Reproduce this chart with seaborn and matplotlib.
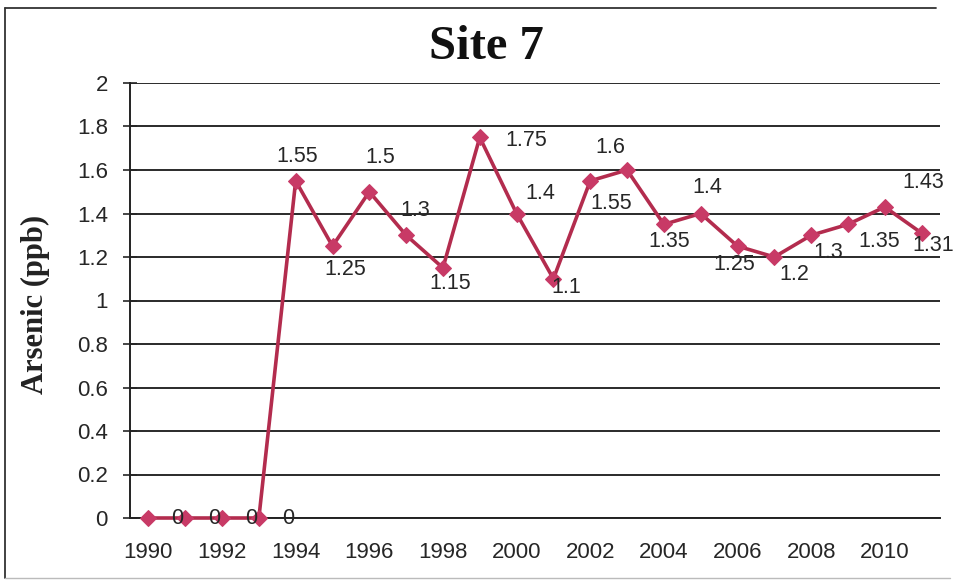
import matplotlib
matplotlib.use("Agg")
import matplotlib.pyplot as plt
from matplotlib.lines import Line2D
import numpy as np
import pandas as pd
import seaborn as sns

# Annual arsenic readings at Site 7
years = list(range(1990, 2012))
arsenic = [0, 0, 0, 0, 1.55, 1.25, 1.5, 1.3, 1.15, 1.75, 1.4, 1.1,
           1.55, 1.6, 1.35, 1.4, 1.25, 1.2, 1.3, 1.35, 1.43, 1.31]
value_labels = ["0", "0", "0", "0", "1.55", "1.25", "1.5", "1.3", "1.15", "1.75", "1.4", "1.1",
                "1.55", "1.6", "1.35", "1.4", "1.25", "1.2", "1.3", "1.35", "1.43", "1.31"]
y_ticks = [0, 0.2, 0.4, 0.6, 0.8, 1, 1.2, 1.4, 1.6, 1.8, 2]
y_tick_labels = ["0", "0.2", "0.4", "0.6", "0.8", "1", "1.2", "1.4", "1.6", "1.8", "2"]
x_tick_years = list(range(1990, 2011, 2))

# where each value label sits relative to its point (pixels: right, down)
label_offsets = [(29, 1), (29, 1), (29, 1), (29, 1),
                 (2, -24), (13, 23), (11, -34), (9, -25), (7, 16), (46, 3),
                 (24, -20), (13, 9), (21, 23), (-17, -22), (5, 17), (7, -26),
                 (-3, 18), (20, 18), (17, 17), (31, 17), (38, -24), (12, 12)]

df = pd.DataFrame({"Year": years, "Arsenic": arsenic})

sns.set_style("white")
plt.rcParams["font.family"] = ["Liberation Sans", "DejaVu Sans"]

W, H = 956, 581
fig = plt.figure(figsize=(W / 100, H / 100), dpi=100)
ax = fig.add_axes([130 / W, 1 - 518 / H, 810 / W, 435 / H])

line_color = "#B32C4E"
marker_color = "#C83A66"
text_color = "#262626"

sns.lineplot(data=df, x="Year", y="Arsenic", ax=ax, color=line_color,
             linewidth=2.6, marker="D", markersize=8,
             markerfacecolor=marker_color, markeredgecolor=marker_color,
             clip_on=False, zorder=5)

for yr, val, txt, (dx, dy) in zip(years, arsenic, value_labels, label_offsets):
    ax.annotate(txt, xy=(yr, val), xytext=(dx, -dy), textcoords="offset pixels",
                ha="center", va="center", fontsize=15.5, color=text_color, zorder=6)

ax.set_xlim(1989.5, 2011.5)
ax.set_ylim(0, 2)
ax.set_yticks(y_ticks)
ax.set_yticklabels(y_tick_labels)
ax.set_xticks(x_tick_years)
ax.set_xticklabels([str(y) for y in x_tick_years])
ax.set_xticks(np.arange(1989.5, 2012, 1.0), minor=True)

ax.tick_params(axis="x", which="major", length=0, pad=17, labelsize=16, colors=text_color)
ax.tick_params(axis="x", which="minor", length=6, width=1.2, direction="out", color="#222222")
ax.tick_params(axis="y", which="major", length=10, width=1.2, direction="inout",
               pad=11, labelsize=16, colors=text_color, left=True)

ax.yaxis.grid(True, color="#2a2a2a", linewidth=1.4)
ax.xaxis.grid(False)
ax.set_axisbelow(True)
for side in ["top", "right"]:
    ax.spines[side].set_visible(False)
for side in ["left", "bottom"]:
    ax.spines[side].set_color("#222222")
    ax.spines[side].set_linewidth(1.4)

ax.set_xlabel("")
ax.set_ylabel("")

fig.text(486 / W, 1 - 47 / H, "Site 7", ha="center", va="center", fontsize=35,
         fontweight="bold", family=["Liberation Serif", "DejaVu Serif"], color="#111111")
fig.text(35 / W, 1 - 304 / H, "Arsenic (ppb)", ha="center", va="center", rotation=90,
         fontsize=22, fontweight="bold", family=["Liberation Serif", "DejaVu Serif"],
         color="#222222")

# chart frame
fig.add_artist(Line2D([5 / W, 5 / W], [1 - 8 / H, 1 - 578 / H], color="#333333", lw=1.3))
fig.add_artist(Line2D([5 / W, 936 / W], [1 - 8 / H, 1 - 8 / H], color="#333333", lw=1.3))
fig.add_artist(Line2D([5 / W, 950 / W], [1 - 578 / H, 1 - 578 / H], color="#bbbbbb", lw=1.0))

fig.savefig("out.png", dpi=100)
